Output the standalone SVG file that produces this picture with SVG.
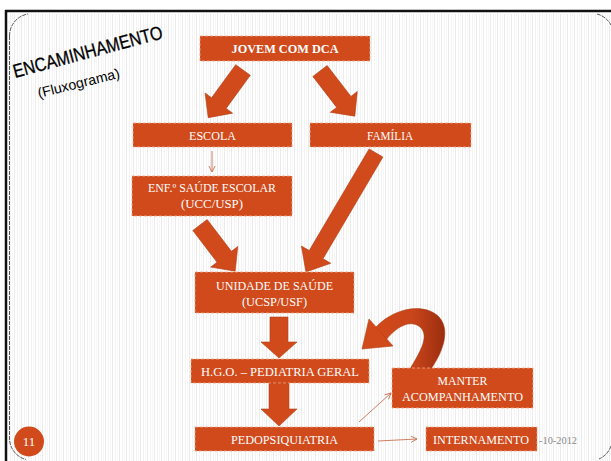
<svg xmlns="http://www.w3.org/2000/svg" width="611" height="461" viewBox="0 0 611 461">
<defs>
<pattern id="stripes" width="7" height="10" patternUnits="userSpaceOnUse">
<rect x="0" y="0" width="1" height="10" fill="#ebebeb"/>
<rect x="3" y="0" width="1" height="10" fill="#f3f3f3"/>
<rect x="5" y="0" width="1" height="10" fill="#f7f7f7"/>
</pattern>
<linearGradient id="curveGrad" x1="0" y1="0" x2="1" y2="0">
<stop offset="0" stop-color="#d24a1b"/>
<stop offset="0.55" stop-color="#c8441a"/>
<stop offset="1" stop-color="#9a2d0e"/>
</linearGradient>
<marker id="thin" markerWidth="8" markerHeight="8" refX="7" refY="4" orient="auto" markerUnits="userSpaceOnUse">
<path d="M1,1 L7,4 L1,7" fill="none" stroke="#c8704f" stroke-width="0.9"/>
</marker>
<style>
.box{fill:#d14a1b;stroke:#f0a88a;stroke-width:0.8;stroke-dasharray:3 2}
.lbl{font-family:"Liberation Serif","DejaVu Serif",serif;font-size:12px;font-weight:normal;fill:#ffffff;text-anchor:middle}
.jv{font-size:13px;font-weight:bold}
.pg{font-size:13px}
.blk{fill:#d14a1b;stroke:#b53f14;stroke-width:0.6}
.thin{fill:none;stroke:#c8704f;stroke-width:0.9}
</style>
</defs>
<rect x="0" y="0" width="611" height="461" fill="#ffffff"/>
<rect x="10" y="14" width="601" height="447" fill="url(#stripes)"/>
<line x1="5" y1="11" x2="611" y2="11" stroke="#111" stroke-width="2.5"/>
<line x1="6" y1="10" x2="6" y2="461" stroke="#111" stroke-width="2.5"/>
<path d="M9.5,36 A22,22 0 0 1 28,14 M597,14 A22,22 0 0 1 611,25 M9.5,36 L9.5,438 A22,22 0 0 0 26,459.5 M611,446 A22,22 0 0 1 599,459" fill="none" stroke="#444" stroke-width="0.9" stroke-dasharray="4 1"/>
<g id="title">
<text transform="translate(15,78) rotate(-15)" font-family="Liberation Sans, Arial, sans-serif" font-size="19" fill="#000" stroke="#000" stroke-width="0.3" textLength="154" lengthAdjust="spacingAndGlyphs">ENCAMINHAMENTO</text>
<text transform="translate(39,98) rotate(-14)" font-family="Liberation Sans, Arial, sans-serif" font-size="14" fill="#000" textLength="84" lengthAdjust="spacingAndGlyphs">(Fluxograma)</text>
</g>
<g id="connectors">
<path class="blk" transform="translate(243,70) rotate(126.1)" d="M0,-9 L41,-9 L41,-17 L59,0 L41,17 L41,9 L0,9 Z"/>
<path class="blk" transform="translate(320,71) rotate(52.4)" d="M0,-9 L39,-9 L39,-17 L57,0 L39,17 L39,9 L0,9 Z"/>
<path class="blk" transform="translate(200,225) rotate(52.7)" d="M0,-9 L40,-9 L40,-17 L58,0 L40,17 L40,9 L0,9 Z"/>
<path class="blk" transform="translate(376,153) rotate(120.5)" d="M0,-8 L118,-8 L118,-17 L138,0 L118,17 L118,8 L0,8 Z"/>
<path class="blk" transform="translate(279,317) rotate(90)" d="M0,-9 L25,-9 L25,-18 L41,0 L25,18 L25,9 L0,9 Z"/>
<path class="blk" transform="translate(279,383) rotate(90)" d="M0,-10 L26,-10 L26,-18 L43,0 L26,18 L26,10 L0,10 Z"/>
<path fill="url(#curveGrad)" stroke="#a8360f" stroke-width="0.5" d="M376,327 C392,310 420,302 437,315 C452,328 443,352 431,369 L410,369 C420,352 430,336 420,327 C410,319 396,327 386,340 Z"/>
<path class="blk" d="M369,319 L362,349 L393,346 Z"/>
<line class="thin" x1="212" y1="151" x2="212" y2="172" marker-end="url(#thin)"/>
<line class="thin" x1="359" y1="422" x2="391" y2="393" marker-end="url(#thin)"/>
<line class="thin" x1="378" y1="441" x2="417" y2="439" marker-end="url(#thin)"/>
</g>
<g id="jovem"><rect class="box" x="200" y="36" width="170" height="25"/><text class="lbl jv" x="285" y="53" textLength="107" lengthAdjust="spacingAndGlyphs">JOVEM COM DCA</text></g>
<g id="escola"><rect class="box" x="133" y="123" width="159" height="24"/><text class="lbl" x="212.5" y="139.5" textLength="47" lengthAdjust="spacingAndGlyphs">ESCOLA</text></g>
<g id="familia"><rect class="box" x="310" y="123" width="161" height="24"/><text class="lbl" x="390" y="139.5" textLength="46" lengthAdjust="spacingAndGlyphs">FAMÍLIA</text></g>
<g id="enf"><rect class="box" x="132" y="176" width="160" height="40"/><text class="lbl" x="212" y="192" textLength="128" lengthAdjust="spacingAndGlyphs">ENF.º SAÚDE ESCOLAR</text><text class="lbl" x="212" y="208" textLength="62" lengthAdjust="spacingAndGlyphs">(UCC/USP)</text></g>
<g id="unidade"><rect class="box" x="195" y="272" width="159" height="41"/><text class="lbl" x="274.5" y="289.5" textLength="117" lengthAdjust="spacingAndGlyphs">UNIDADE DE SAÚDE</text><text class="lbl" x="274.5" y="306" textLength="65" lengthAdjust="spacingAndGlyphs">(UCSP/USF)</text></g>
<g id="hgo"><rect class="box" x="191" y="359" width="178" height="24"/><text class="lbl" x="280" y="375.5" textLength="158" lengthAdjust="spacingAndGlyphs">H.G.O. – PEDIATRIA GERAL</text></g>
<g id="manter"><rect class="box" x="392" y="368" width="141" height="40"/><text class="lbl" x="462.5" y="385" textLength="50" lengthAdjust="spacingAndGlyphs">MANTER</text><text class="lbl" x="462.5" y="401" textLength="121" lengthAdjust="spacingAndGlyphs">ACOMPANHAMENTO</text></g>
<g id="pedo"><rect class="box" x="195" y="427" width="179" height="24"/><text class="lbl" x="284.5" y="443.5" textLength="107" lengthAdjust="spacingAndGlyphs">PEDOPSIQUIATRIA</text></g>
<g id="internamento"><rect class="box" x="426" y="427" width="111" height="24"/><text class="lbl" x="481" y="443.5" textLength="96" lengthAdjust="spacingAndGlyphs">INTERNAMENTO</text></g>
<g id="pagenum"><circle cx="29" cy="441.5" r="15" fill="#d14a1b"/><text class="lbl pg" x="29" y="446">11</text></g>
<text x="539" y="444" font-family="Liberation Serif, serif" font-size="11" fill="#8a8a8a" textLength="38" lengthAdjust="spacingAndGlyphs">-10-2012</text>
</svg>
